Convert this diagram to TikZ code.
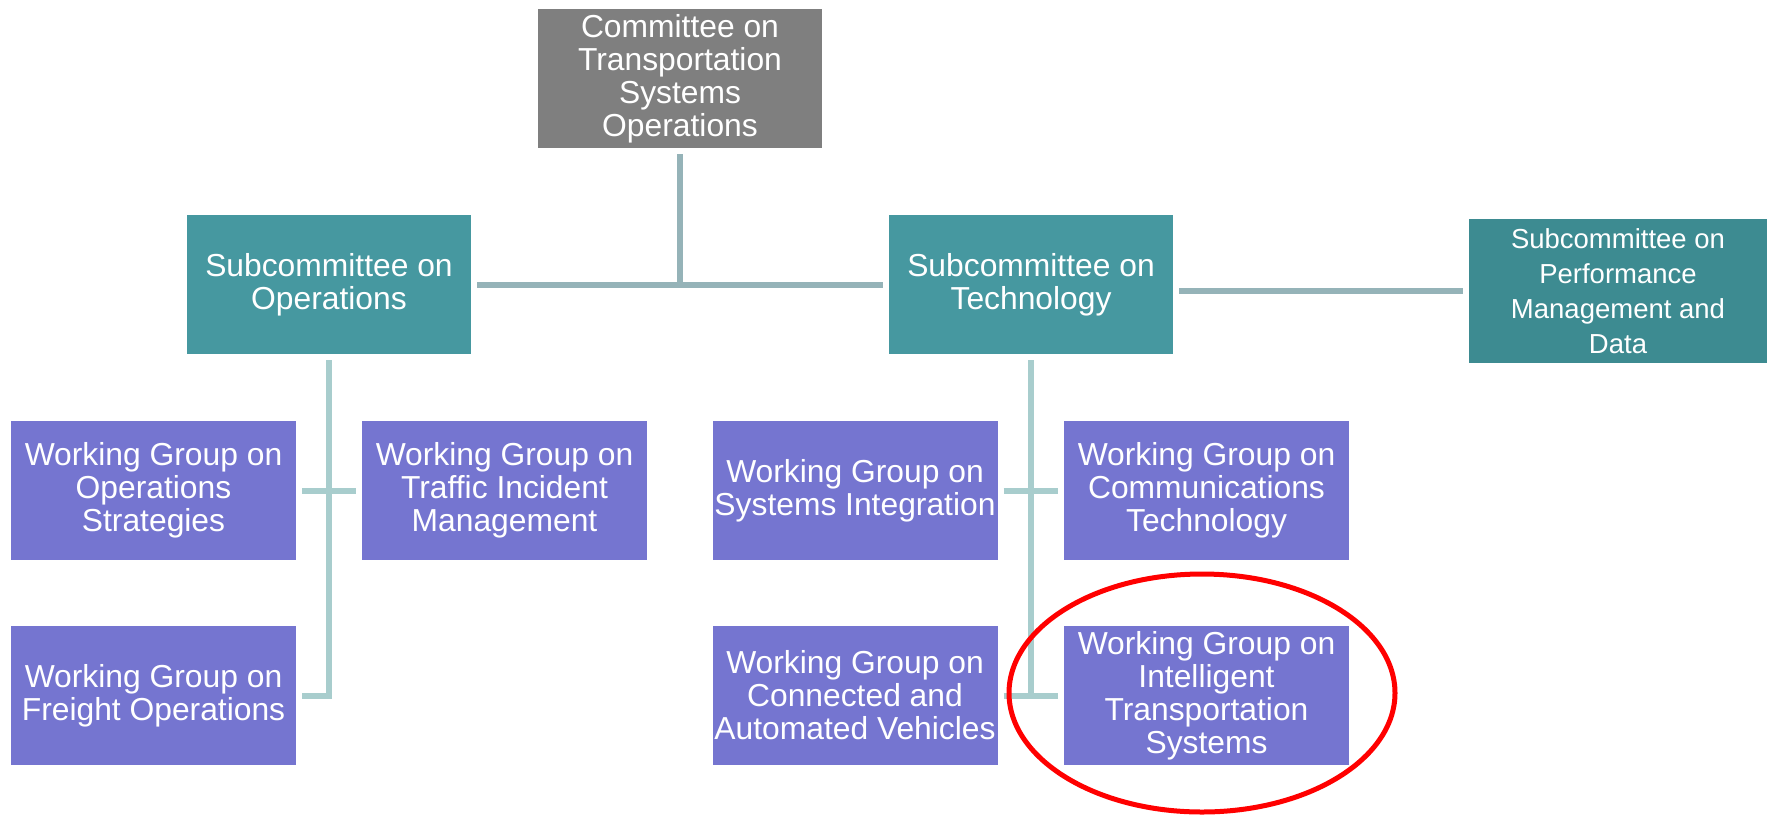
\documentclass[tikz,border=0pt]{standalone}
\usepackage{fontspec}
\setmainfont{Liberation Sans}
\definecolor{chairgray}{HTML}{7F7F7F}
\definecolor{subteal}{HTML}{4698A0}
\definecolor{perfteal}{HTML}{3D8B91}
\definecolor{wgviolet}{HTML}{7575D0}
\definecolor{linkup}{HTML}{95B3B8}
\definecolor{linklow}{HTML}{A8CDCD}
\definecolor{markred}{HTML}{FF0000}
\begin{document}
\begin{tikzpicture}[x=0.5pt, y=-0.5pt,
    every node/.style={inner sep=0pt, outer sep=3pt, align=center, text=white,
      font=\fontsize{15.9pt}{16.5pt}\selectfont},
    orgbox/.style={fill=#1, minimum width=142pt, minimum height=69.5pt},
    link/.style={draw=linkup, line width=3pt},
    sublink/.style={draw=linklow, line width=3pt}]
  \useasboundingbox (0,0) rectangle (1773,816);

  % Committee & subcommittees
  \node[orgbox=chairgray] (top) at (680,78.5) {Committee on\\Transportation\\Systems\\Operations};
  \node[orgbox=subteal] (subops) at (329,284.5) {Subcommittee on\\Operations};
  \node[orgbox=subteal] (subtech) at (1031,284.5) {Subcommittee on\\Technology};
  \node[orgbox=perfteal, minimum width=149pt, minimum height=72pt,
    font=\fontsize{13.75pt}{17.5pt}\selectfont] (subperf) at (1618,291)
    {Subcommittee on\\Performance\\Management and\\Data};

  % Working groups
  \foreach \nm/\x/\y/\txt in {
      wgstrat/153.5/490.5/{Working Group on\\Operations\\Strategies},
      wgtim/504.5/490.5/{Working Group on\\Traffic Incident\\Management},
      wgfreight/153.5/695.5/{Working Group on\\Freight Operations},
      wgsi/855/490.5/{Working Group on\\Systems Integration},
      wgct/1206.5/490.5/{Working Group on\\Communications\\Technology},
      wgcav/855/695.5/{Working Group on\\Connected and\\Automated Vehicles},
      wgits/1206.5/695.5/{Working Group on\\Intelligent\\Transportation\\Systems}} {
    \node[orgbox=wgviolet, minimum width=142.5pt] (\nm) at (\x,\y) {\txt};
  }

  % Upper connectors
  \draw[link] (top.south) -- (top.south |- subops.east);
  \draw[link] (subops.east) -- (subtech.west);
  \draw[link] (subtech.east |- subperf.west) -- (subperf.west);

  % Lower connectors
  \draw[sublink] (subops.south) |- (wgfreight.east);
  \draw[sublink] (wgstrat.east) -- (wgtim.west);
  \draw[sublink] (subtech.south) -- (subtech.south |- wgcav.east);
  \draw[sublink] (wgsi.east) -- (wgct.west);
  \draw[sublink] (wgcav.east) -- (wgits.west);

  % Highlight
  \draw[markred, line width=2.5pt] ([shift={(-4.5,-2.5)}]wgits.center)
    ellipse [x radius=193, y radius=119];
\end{tikzpicture}
\end{document}
